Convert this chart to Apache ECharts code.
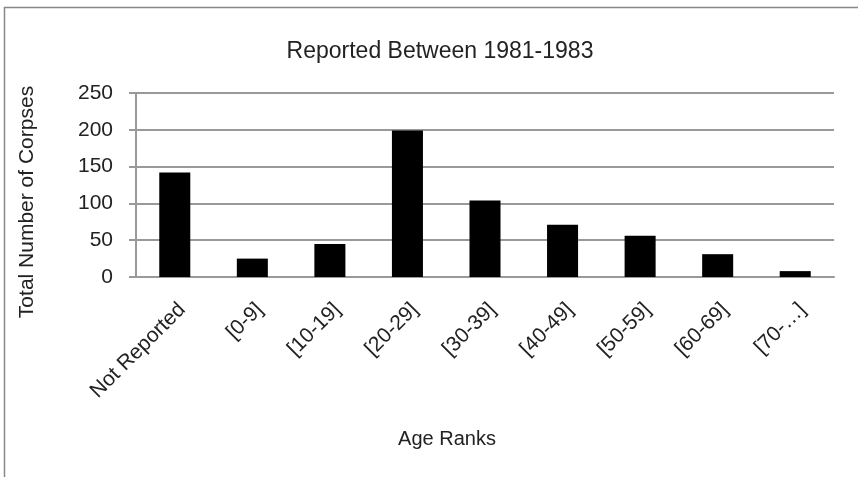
<!DOCTYPE html>
<html>
<head>
<meta charset="utf-8">
<script src="https://cdn.jsdelivr.net/npm/echarts@6/dist/echarts.min.js"></script>
<style>
  html, body { margin: 0; padding: 0; background: #fff; }
  #main { width: 858px; height: 477px; }
</style>
</head>
<body>
<div id="main"></div>
<script>
var categories = ['Not Reported', '[0-9]', '[10-19]', '[20-29]', '[30-39]', '[40-49]', '[50-59]', '[60-69]', '[70-…]'];
var corpses = [142, 25, 45, 199, 104, 71, 56, 31, 8];

var myChart = echarts.init(document.getElementById('main'));
var font = 'Liberation Sans';
var option = {
    backgroundColor: '#fff',
    animation: false,
    title: {
        text: 'Reported Between 1981-1983',
        left: 435,
        textAlign: 'center',
        top: 35,
        textStyle: {
            fontFamily: font,
            fontWeight: 'normal',
            fontSize: 23,
            color: '#222'
        }
    },
    graphic: [
        {
            type: 'rect',
            shape: { x: 4.5, y: 7.5, width: 900, height: 520 },
            style: { fill: 'none', stroke: '#888', lineWidth: 1.5 },
            silent: true
        }
    ],
    grid: {
        left: 136,
        right: 24,
        top: 93,
        bottom: 200
    },
    xAxis: {
        type: 'category',
        data: categories,
        name: 'Age Ranks',
        nameLocation: 'middle',
        nameGap: 152,
        nameTextStyle: {
            fontFamily: font,
            fontSize: 20,
            color: '#222',
            padding: [0, 76, 0, 0]
        },
        axisLine: { lineStyle: { color: '#999', width: 2 } },
        axisTick: { show: false },
        axisLabel: {
            rotate: 45,
            margin: 22,
            interval: 0,
            verticalAlign: 'top',
            fontFamily: font,
            fontSize: 21,
            color: '#222'
        }
    },
    yAxis: {
        type: 'value',
        min: 0,
        max: 250,
        interval: 50,
        name: 'Total Number of Corpses',
        nameLocation: 'middle',
        nameGap: 98,
        nameTextStyle: {
            fontFamily: font,
            fontSize: 21,
            color: '#222',
            padding: [0, 34, 0, 0]
        },
        axisLine: { show: true, lineStyle: { color: '#999', width: 2 } },
        axisTick: { show: true, length: 7, lineStyle: { color: '#999', width: 2 } },
        splitLine: { lineStyle: { color: '#999', width: 2 } },
        axisLabel: {
            margin: 23,
            fontFamily: font,
            fontSize: 21,
            color: '#222'
        }
    },
    series: [
        {
            name: 'Total Number of Corpses',
            type: 'bar',
            data: corpses,
            barWidth: '40%',
            itemStyle: { color: '#000' }
        }
    ]
};
myChart.setOption(option);
</script>
</body>
</html>
